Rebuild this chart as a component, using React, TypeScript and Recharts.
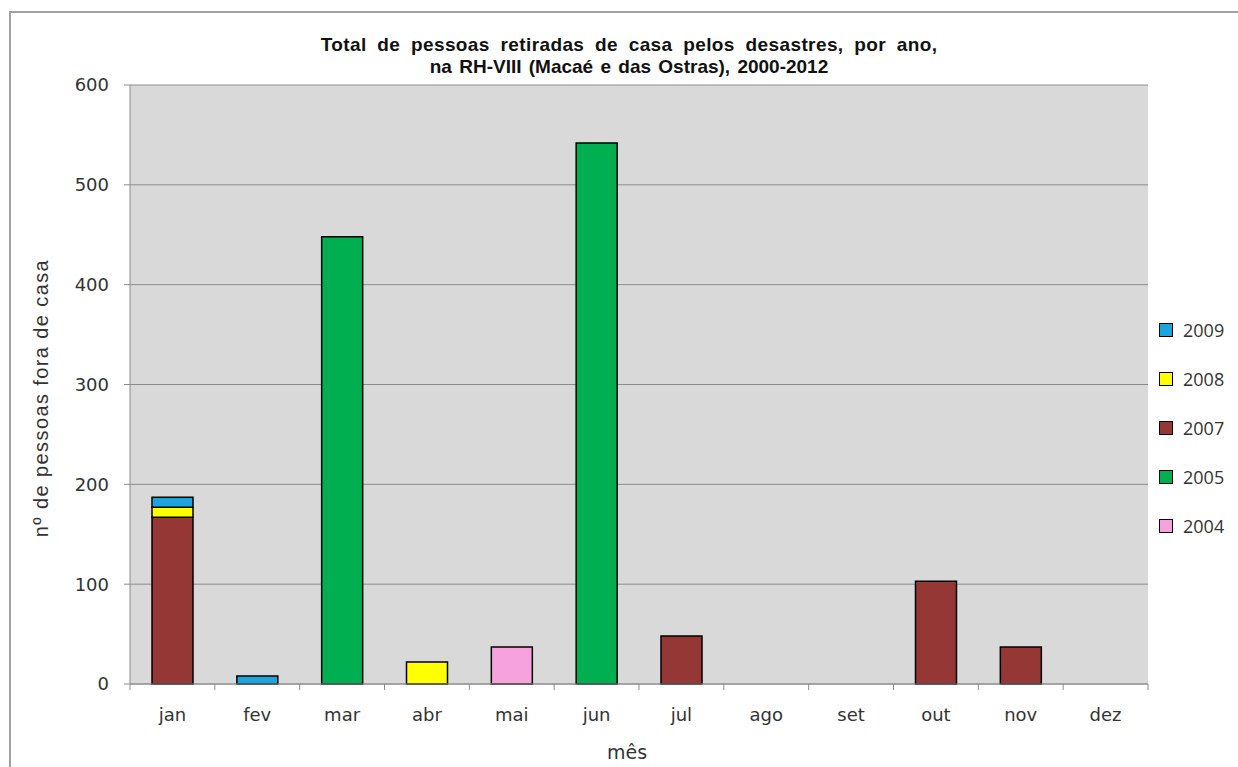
import React from 'react';
import { BarChart, Bar, XAxis, YAxis, CartesianGrid, Legend, Label } from 'recharts';

const months = ['jan', 'fev', 'mar', 'abr', 'mai', 'jun', 'jul', 'ago', 'set', 'out', 'nov', 'dez'];
const y2004 = [null, null, null, null, 37, null, null, null, null, null, null, null];
const y2005 = [null, null, 448, null, null, 542, null, null, null, null, null, null];
const y2007 = [167, null, null, null, null, null, 48, null, null, 103, 37, null];
const y2008 = [10, null, null, 22, null, null, null, null, null, null, null, null];
const y2009 = [10, 8, null, null, null, null, null, null, null, null, null, null];
const yTicks = [0, 100, 200, 300, 400, 500, 600];

// stack order bottom -> top; legend shows it reversed
const series = [
  { key: '2004', values: y2004, color: '#f6a2de' },
  { key: '2005', values: y2005, color: '#00b050' },
  { key: '2007', values: y2007, color: '#953735' },
  { key: '2008', values: y2008, color: '#ffff00' },
  { key: '2009', values: y2009, color: '#1ca4de' },
];

const data = months.map((m, i) => {
  const row: any = { month: m };
  series.forEach((s) => { row[s.key] = s.values[i]; });
  return row;
});

const W = 1238;
const H = 767;
const margin = { top: 85, right: 90, bottom: 0, left: 0 };
const Y_AXIS_W = 130;
const X_AXIS_H = 83;
const PLOT_W = W - margin.right - Y_AXIS_W;
const HALF_BAND = PLOT_W / months.length / 2;
const AXIS = '#8c8c8c';
const TICK_FONT = '"DejaVu Sans", sans-serif';

const MonthTick = ({ x, y, payload }: any) => (
  <g>
    <line x1={x - HALF_BAND} y1={y} x2={x - HALF_BAND} y2={y + 6} stroke={AXIS} />
    {payload.index === months.length - 1 && (
      <line x1={x + HALF_BAND} y1={y} x2={x + HALF_BAND} y2={y + 6} stroke={AXIS} />
    )}
    <text x={x} y={y + 37} textAnchor="middle" fill="#333" fontSize={18} fontFamily={TICK_FONT}>
      {payload.value}
    </text>
  </g>
);

const LegendBox = () => (
  <div style={{ fontFamily: '"Open Sans", sans-serif', fontSize: 18, color: '#333', width: 80 }}>
    {[...series].reverse().map((s) => (
      <div key={s.key} style={{ display: 'flex', alignItems: 'center', height: 49 }}>
        <span
          style={{
            display: 'inline-block', flexShrink: 0, width: 12, height: 12,
            background: s.color, border: '1px solid #000', marginRight: 10,
          }}
        />
        <span>{s.key}</span>
      </div>
    ))}
  </div>
);

export default function App() {
  return (
    <div style={{ position: 'absolute', left: 0, top: 0, width: W, height: H, background: '#fff', overflow: 'hidden' }}>
      <div style={{ position: 'absolute', left: 9, top: 11, width: W + 20, height: H + 20, border: '2px solid #a0a0a0' }} />
      <div
        style={{
          position: 'absolute', left: 279, width: 700, top: 34, textAlign: 'center',
          fontFamily: '"Liberation Sans", Arial, sans-serif', fontWeight: 'bold', fontSize: 19,
          lineHeight: '22px', color: '#111',
        }}
      >
        <div style={{ wordSpacing: 5, letterSpacing: 0.4 }}>Total de pessoas retiradas de casa pelos desastres, por ano,</div>
        <div style={{ wordSpacing: 2 }}>na RH-VIII (Macaé e das Ostras), 2000-2012</div>
      </div>
      <BarChart width={W} height={H} data={data} margin={margin} barSize={41}>
        <CartesianGrid vertical={false} stroke={AXIS} fill="#d9d9d9" />
        <XAxis
          dataKey="month"
          height={X_AXIS_H}
          stroke={AXIS}
          tickLine={false}
          tickSize={0}
          tickMargin={0}
          interval={0}
          tick={<MonthTick />}
        >
          <Label
            content={() => (
              <text x={627} y={759} textAnchor="middle" fill="#333" fontSize={19} fontFamily={TICK_FONT}>
                mês
              </text>
            )}
          />
        </XAxis>
        <YAxis
          width={Y_AXIS_W}
          domain={[0, 600]}
          ticks={yTicks}
          stroke={AXIS}
          tickSize={6}
          tickMargin={15}
          tick={{ fill: '#333', fontSize: 18, fontFamily: TICK_FONT }}
        >
          <Label
            content={() => (
              <text
                x={41}
                y={398}
                transform="rotate(-90 41 398)"
                textAnchor="middle"
                dominantBaseline="central"
                fill="#333"
                fontSize={20}
                letterSpacing={1.4}
                fontFamily='"Liberation Sans", Arial, sans-serif'
              >
                nº de pessoas fora de casa
              </text>
            )}
          />
        </YAxis>
        <Legend
          layout="vertical"
          align="right"
          verticalAlign="top"
          content={<LegendBox />}
          wrapperStyle={{ left: 1159, top: 305, width: 0, height: 0, overflow: 'visible', whiteSpace: 'nowrap' }}
        />
        {series.map((s) => (
          <Bar
            key={s.key}
            dataKey={s.key}
            stackId="a"
            fill={s.color}
            stroke="#000"
            strokeWidth={1.5}
            isAnimationActive={false}
          />
        ))}
      </BarChart>
    </div>
  );
}
